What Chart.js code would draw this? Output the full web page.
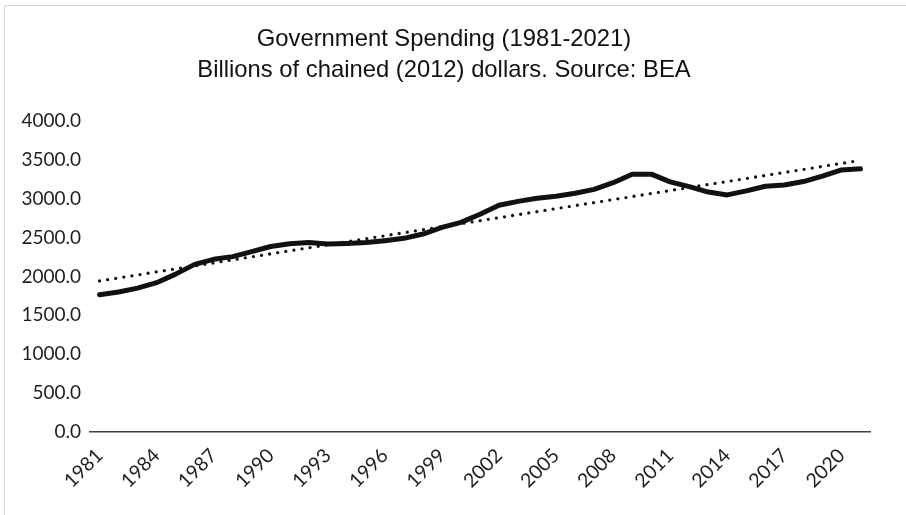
<!DOCTYPE html>
<html>
<head>
<meta charset="utf-8">
<title>Government Spending</title>
<script src="https://cdn.jsdelivr.net/npm/chart.js@4.4.1/dist/chart.umd.min.js"></script>
<style>
  html, body { margin: 0; padding: 0; background: #fff; }
  #wrap { position: relative; width: 906px; height: 515px; overflow: hidden; }
  #frame { position: absolute; left: 4px; top: 5px; width: 920px; height: 530px; border: 1px solid #d9d9d9; box-sizing: border-box; }
  #chart-line_spending { position: absolute; left: 0; top: 0; }
</style>
</head>
<body>
<div id="wrap">
  <div id="frame"></div>
  <canvas id="chart-line_spending" width="906" height="515"></canvas>
</div>
<script>
// ------------- DATOS
const years = [];
for (let y = 1981; y <= 2021; y++) years.push(String(y));

// gasto real, miles de millones de dólares encadenados (2012)
const spending = [
  1765, 1800, 1850, 1920, 2030, 2155, 2220, 2255, 2320, 2385,
  2420, 2435, 2418, 2425, 2435, 2460, 2490, 2545, 2630, 2695,
  2800, 2915, 2965, 3005, 3030, 3070, 3120, 3205, 3315, 3315,
  3215, 3155, 3085, 3048, 3100, 3160, 3175, 3220, 3290, 3370,
  3383
];

// línea de tendencia: solo extremos, el resto se une con spanGaps
const trendStart = 1942;
const trendEnd = 3492;
const trend = years.map(function (y, i) {
  if (i === 0) return trendStart;
  if (i === years.length - 1) return trendEnd;
  return null;
});

const yTicksMax = 4000;
const yTicksStep = 500;
const labelEvery = 3;

const titleLines = [
  'Government Spending (1981-2021)',
  'Billions of chained (2012) dollars. Source: BEA'
];

// ---------- GRÁFICO DE LÍNEA
const ctx = document.getElementById('chart-line_spending').getContext('2d');
const myChartSpending = new Chart(ctx, {
  type: 'line',
  data: {
    labels: years,
    datasets: [{
      label: 'Tendencia',
      data: trend,
      spanGaps: true,
      borderColor: '#111',
      borderWidth: 3.3,
      borderDash: [0, 8.2],
      borderCapStyle: 'round',
      pointRadius: 0,
      order: 0
    }, {
      label: 'Gasto',
      data: spending,
      borderColor: '#111',
      borderWidth: 5,
      borderJoinStyle: 'round',
      borderCapStyle: 'round',
      pointRadius: 0,
      tension: 0,
      order: 1
    }]
  },
  options: {
    responsive: false,
    animation: false,
    layout: {
      // izquierda 18 + eje 72 = 90 para el área de trazado
      padding: { top: 10, right: 36, bottom: 0, left: 18 }
    },
    plugins: {
      legend: { display: false },
      tooltip: { enabled: false },
      title: {
        display: true,
        text: titleLines,
        color: '#111',
        font: { family: 'Liberation Sans', size: 23.8, weight: 'normal', lineHeight: 1.3 },
        padding: { top: 14, bottom: 35 }
      }
    },
    scales: {
      y: {
        min: 0,
        max: yTicksMax,
        grid: { display: false, drawTicks: false },
        border: { display: false },
        ticks: {
          stepSize: yTicksStep,
          padding: 9,
          color: '#1f1f1f',
          font: { family: 'Lato', size: 19 },
          callback: function (v) { return Number(v).toFixed(1); }
        },
        afterFit: function (scale) { scale.width = 72; }
      },
      x: {
        offset: true,
        grid: { display: false, drawTicks: false },
        border: { display: true, color: '#404040', width: 1.5 },
        ticks: {
          autoSkip: false,
          maxRotation: 45,
          minRotation: 45,
          padding: 12,
          color: '#1f1f1f',
          font: { family: 'Lato', size: 19.5 },
          callback: function (v, i) { return i % labelEvery === 0 ? years[i] : ''; }
        },
        afterFit: function (scale) { scale.height = 83; }
      }
    }
  }
});
</script>
</body>
</html>
